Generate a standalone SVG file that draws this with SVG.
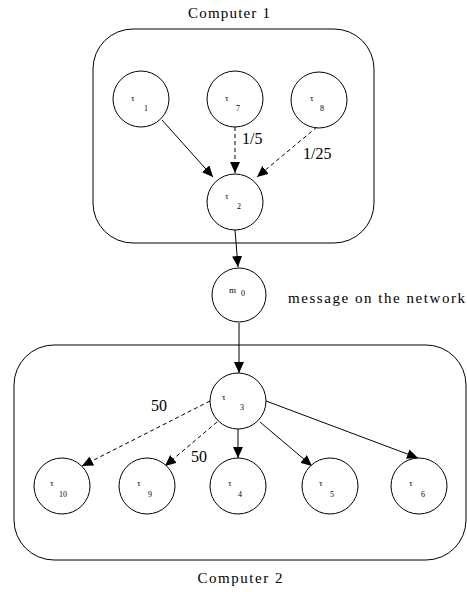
<svg xmlns="http://www.w3.org/2000/svg" width="467" height="592" viewBox="0 0 467 592">
<style>
.box{fill:none;stroke:#000;stroke-width:1}
.node circle{fill:#fff;stroke:#000;stroke-width:1}
.t{font-family:"Liberation Serif",serif;font-size:9px;fill:#000}
.s{font-family:"Liberation Serif",serif;font-size:8px;fill:#000}
.lbl{font-family:"Liberation Serif",serif;font-size:15px;fill:#000}
.num{font-family:"Liberation Serif",serif;font-size:16px;fill:#000}
.e{stroke:#000;stroke-width:1;fill:none;marker-end:url(#ah)}
.d{stroke-dasharray:4 3}
</style>
<defs>
<marker id="ah" markerUnits="userSpaceOnUse" markerWidth="12" markerHeight="10" refX="11" refY="5" orient="auto">
<path d="M0,0 L11,5 L0,10 Z" fill="#000"/>
</marker>
</defs>
<g id="computer1">
<rect class="box" x="93" y="29" width="281" height="214" rx="40" ry="40"/>
<text class="lbl" x="229" y="18" text-anchor="middle" textLength="82" lengthAdjust="spacing">Computer 1</text>
</g>
<g id="computer2">
<rect class="box" x="14" y="345" width="452" height="215" rx="40" ry="40"/>
<text class="lbl" x="240" y="583" text-anchor="middle" textLength="85" lengthAdjust="spacing">Computer 2</text>
</g>
<g id="connectors">
<line class="e" x1="162" y1="120" x2="213" y2="177"/>
<line class="e d" x1="235" y1="127" x2="235" y2="173"/>
<line class="e d" x1="317" y1="127" x2="257" y2="177"/>
<line class="e" x1="235" y1="230" x2="238" y2="267"/>
<line class="e" x1="239" y1="323" x2="239" y2="373"/>
<line class="e d" x1="210" y1="401" x2="82" y2="466"/>
<line class="e d" x1="217" y1="422" x2="165" y2="466"/>
<line class="e" x1="238" y1="429" x2="238" y2="458"/>
<line class="e" x1="260" y1="422" x2="312" y2="466"/>
<line class="e" x1="266" y1="401" x2="418" y2="458"/>
<text class="num" x="242" y="144">1/5</text>
<text class="num" x="303" y="159">1/25</text>
<text class="num" x="151" y="411">50</text>
<text class="num" x="191" y="462">50</text>
</g>
<g id="tau1" class="node"><circle cx="141" cy="99" r="28"/><text class="t" x="131" y="101">τ</text><text class="s" x="144" y="111">1</text></g>
<g id="tau7" class="node"><circle cx="235" cy="99" r="28"/><text class="t" x="225" y="101">τ</text><text class="s" x="236" y="111">7</text></g>
<g id="tau8" class="node"><circle cx="319" cy="100" r="28"/><text class="t" x="310" y="101">τ</text><text class="s" x="320" y="111">8</text></g>
<g id="tau2" class="node"><circle cx="235" cy="202" r="28"/><text class="t" x="225" y="199">τ</text><text class="s" x="237" y="209">2</text></g>
<g id="m0" class="node"><circle cx="239" cy="295" r="27"/><text class="t" x="229" y="293" font-size="10">m</text><text class="s" x="241" y="296" font-size="7">0</text></g>
<text class="lbl" x="288" y="303" font-size="14" textLength="177" lengthAdjust="spacing">message on the network</text>
<g id="tau3" class="node"><circle cx="238" cy="401" r="28"/><text class="t" x="222" y="400">τ</text><text class="s" x="240" y="410">3</text></g>
<g id="tau10" class="node"><circle cx="62" cy="486" r="28"/><text class="t" x="50" y="486">τ</text><text class="s" x="59" y="497">10</text></g>
<g id="tau9" class="node"><circle cx="147" cy="486" r="28"/><text class="t" x="137" y="486">τ</text><text class="s" x="148" y="497">9</text></g>
<g id="tau4" class="node"><circle cx="238" cy="486" r="28"/><text class="t" x="228" y="486">τ</text><text class="s" x="238" y="497">4</text></g>
<g id="tau5" class="node"><circle cx="330" cy="486" r="28"/><text class="t" x="319" y="486">τ</text><text class="s" x="330" y="497">5</text></g>
<g id="tau6" class="node"><circle cx="419" cy="486" r="28"/><text class="t" x="409" y="486">τ</text><text class="s" x="421" y="497">6</text></g>
</svg>
